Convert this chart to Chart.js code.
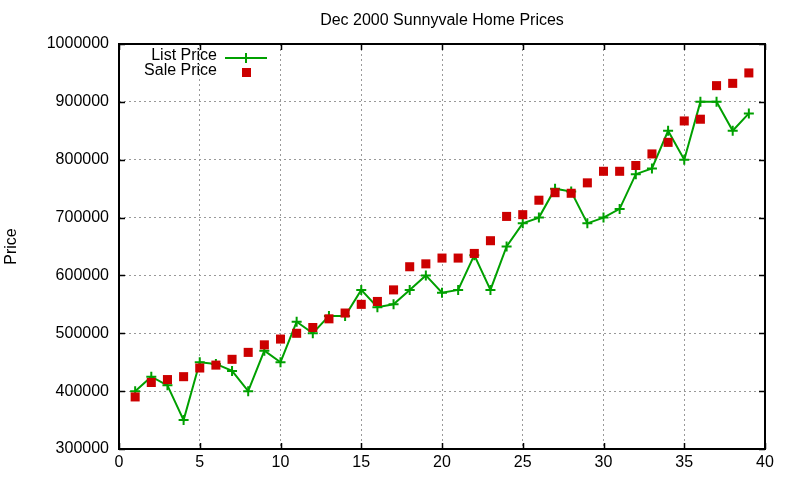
<!DOCTYPE html>
<html>
<head>
<meta charset="utf-8">
<script src="https://cdn.jsdelivr.net/npm/chart.js@4"></script>
<style>
html,body{margin:0;padding:0;background:#fff;}
#wrap{width:800px;height:480px;}
</style>
</head>
<body>
<div id="wrap"><canvas id="c" width="800" height="480"></canvas></div>
<script>
const titleText = 'Dec 2000 Sunnyvale Home Prices';
const yAxisLabel = 'Price';
const seriesNames = ['List Price', 'Sale Price'];
const homeIndex = [1,2,3,4,5,6,7,8,9,10,11,12,13,14,15,16,17,18,19,20,21,22,23,24,25,26,27,28,29,30,31,32,33,34,35,36,37,38,39];
const listPrice = [400000,425000,410000,350000,450000,447000,435000,400000,470000,450000,520000,500000,530000,530000,575000,545000,550000,575000,600000,570000,575000,635000,575000,650000,690000,700000,750000,745000,690000,700000,715000,775000,785000,850000,800000,900000,900000,850000,880000];
const salePrice = [390000,415000,420000,425000,440000,445000,455000,467000,480000,490000,500000,510000,525000,535000,550000,555000,575000,615000,620000,630000,630000,638000,660000,702000,705000,730000,743000,742000,760000,780000,780000,790000,810000,830000,867000,870000,928000,932000,950000];
const xTicks = [0,5,10,15,20,25,30,35,40];
const yTicks = [300000,400000,500000,600000,700000,800000,900000,1000000];

const FONT = 'Liberation Sans, Arial, sans-serif';
const GREEN = '#00a000';
const RED = '#cc0000';

const framePlugin = {
  id: 'frame',
  afterDraw(chart) {
    const ctx = chart.ctx;
    const a = chart.chartArea;
    const xs = chart.scales.x, ys = chart.scales.y;
    const tl = 6;
    ctx.save();
    ctx.strokeStyle = '#000';
    ctx.lineWidth = 1.5;
    ctx.setLineDash([]);
    ctx.beginPath();
    xTicks.forEach(v => {
      const px = Math.round(xs.getPixelForValue(v)) + 0.5;
      ctx.moveTo(px, a.bottom); ctx.lineTo(px, a.bottom - tl);
      ctx.moveTo(px, a.top); ctx.lineTo(px, a.top + tl);
    });
    yTicks.forEach(v => {
      const py = Math.round(ys.getPixelForValue(v)) + 0.5;
      ctx.moveTo(a.left, py); ctx.lineTo(a.left + tl, py);
      ctx.moveTo(a.right, py); ctx.lineTo(a.right - tl, py);
    });
    ctx.stroke();
    ctx.lineWidth = 2;
    ctx.strokeRect(a.left, a.top, a.right - a.left, a.bottom - a.top);

    // title centred over the plot area
    ctx.font = '16px ' + FONT;
    ctx.fillStyle = '#000';
    ctx.textAlign = 'center';
    ctx.textBaseline = 'middle';
    ctx.fillText(titleText, (a.left + a.right) / 2, 21);

    // legend inside plot, gnuplot style
    ctx.textAlign = 'right';
    const tx = a.left + 98;
    const y1 = a.top + 12, y2 = a.top + 27;
    ctx.fillText(seriesNames[0], tx, y1);
    ctx.fillText(seriesNames[1], tx, y2);
    ctx.strokeStyle = GREEN;
    ctx.lineWidth = 2;
    ctx.beginPath();
    ctx.moveTo(tx + 8, y1 + 2); ctx.lineTo(tx + 50, y1 + 2);
    ctx.moveTo(tx + 29, y1 + 2 - 5); ctx.lineTo(tx + 29, y1 + 2 + 5);
    ctx.stroke();
    ctx.fillStyle = RED;
    ctx.fillRect(tx + 25, y2 - 3, 9, 9);
    ctx.restore();
  }
};

new Chart(document.getElementById('c'), {
  type: 'scatter',
  data: {
    datasets: [
      {
        label: seriesNames[0],
        data: homeIndex.map((x, i) => ({x: x, y: listPrice[i]})),
        showLine: true,
        borderColor: GREEN,
        backgroundColor: GREEN,
        borderWidth: 2,
        pointStyle: 'cross',
        pointRadius: 5,
        pointBorderWidth: 2,
        pointBorderColor: GREEN,
        tension: 0,
        order: 2
      },
      {
        label: seriesNames[1],
        data: homeIndex.map((x, i) => ({x: x, y: salePrice[i]})),
        showLine: false,
        borderColor: RED,
        backgroundColor: RED,
        pointStyle: 'rect',
        pointRadius: 6.4,
        pointBorderWidth: 0,
        order: 1
      }
    ]
  },
  options: {
    responsive: false,
    animation: false,
    devicePixelRatio: 1,
    layout: { padding: { left: 0, right: 35, top: 44, bottom: 0 } },
    plugins: {
      legend: { display: false },
      tooltip: { enabled: false },
      title: { display: false }
    },
    scales: {
      x: {
        type: 'linear',
        min: 0, max: 40,
        afterBuildTicks(scale) { scale.ticks = xTicks.map(v => ({value: v})); },
        afterFit(scale) { scale.height = 31; },
        ticks: { color: '#000', font: { family: FONT, size: 16 }, padding: 4, maxRotation: 0 },
        grid: { color: '#999', lineWidth: 1, drawTicks: false },
        border: { display: false, dash: [2, 3] }
      },
      y: {
        type: 'linear',
        min: 300000, max: 1000000,
        afterBuildTicks(scale) { scale.ticks = yTicks.map(v => ({value: v})); },
        afterFit(scale) { scale.width = 119; },
        ticks: { color: '#000', font: { family: FONT, size: 16 }, padding: 10, callback: v => String(v) },
        grid: { color: '#999', lineWidth: 1, drawTicks: false },
        border: { display: false, dash: [2, 3] },
        title: {
          display: true,
          text: yAxisLabel,
          color: '#000',
          font: { family: FONT, size: 16 },
          padding: { top: 2, bottom: 0 }
        }
      }
    }
  },
  plugins: [framePlugin]
});
</script>
</body>
</html>
